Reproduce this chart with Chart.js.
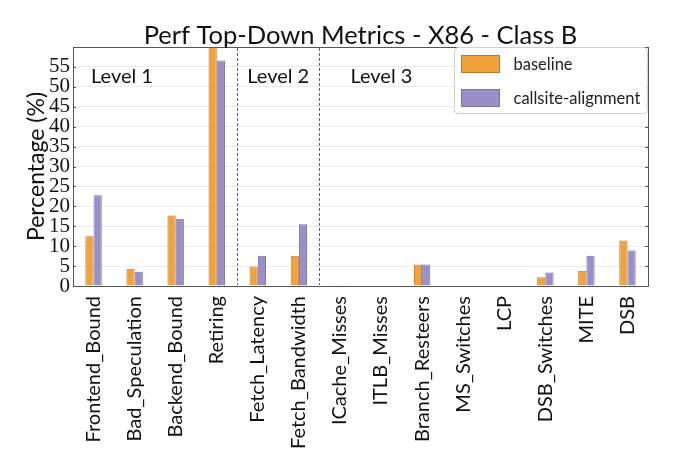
<!DOCTYPE html>
<html>
<head>
<meta charset="utf-8">
<script src="https://cdn.jsdelivr.net/npm/chart.js@4.4.0/dist/chart.umd.min.js"></script>
<style>
html,body{margin:0;padding:0;background:#fff;}
#wrap{width:674px;height:472px;}
</style>
</head>
<body>
<div id="wrap"><canvas id="c" width="674" height="472"></canvas></div>
<script>
const categories = ["Frontend_Bound","Bad_Speculation","Backend_Bound","Retiring","Fetch_Latency","Fetch_Bandwidth","ICache_Misses","ITLB_Misses","Branch_Resteers","MS_Switches","LCP","DSB_Switches","MITE","DSB"];
const baseline = [12.5, 4.3, 17.7, 61.0, 4.9, 7.6, 0.2, 0, 5.4, 0, 0.1, 2.2, 3.8, 11.4];
const callsiteAlignment = [22.8, 3.6, 16.9, 56.6, 7.6, 15.5, 0.2, 0, 5.4, 0, 0.1, 3.4, 7.6, 8.9];
const yTicks = [0,5,10,15,20,25,30,35,40,45,50,55];
const levelLabels = ["Level 1","Level 2","Level 3"];
const seriesNames = ["baseline","callsite-alignment"];
const titleText = "Perf Top-Down Metrics - X86 - Class B";
const yTitle = "Percentage (%)";

const orange = "rgba(240,163,60,1)", orangeEdge = "#b9782c";
const purple = "rgba(154,143,200,1)", purpleEdge = "#7a70a6";

const decor = {
  id: 'decor',
  afterDraw(chart) {
    const ctx = chart.ctx, a = chart.chartArea, x = chart.scales.x, y = chart.scales.y;
    ctx.save();
    // frame
    ctx.setLineDash([]);
    ctx.strokeStyle = "#555"; ctx.lineWidth = 1;
    ctx.strokeRect(Math.round(a.left)+0.5, Math.round(a.top)+0.5, Math.round(a.right-a.left), Math.round(a.bottom-a.top));
    // inward ticks
    yTicks.forEach(v => {
      const py = Math.round(y.getPixelForValue(v)) + 0.5;
      ctx.beginPath(); ctx.moveTo(a.left, py); ctx.lineTo(a.left+3, py);
      ctx.moveTo(a.right, py); ctx.lineTo(a.right-3, py); ctx.stroke();
    });
    // separators (dashes as filled rects)
    ctx.fillStyle = "#ff2020";
    [3.5, 5.5].forEach(v => {
      const px = Math.round(x.getPixelForValue(v));
      for (let yy = Math.round(a.top) + 1; yy < a.bottom - 1; yy += 5) {
        ctx.fillRect(px, yy, 1, Math.min(3, a.bottom - 1 - yy));
      }
    });
    // level labels
    ctx.fillStyle = "#111"; ctx.font = "20px Lato"; ctx.textBaseline = "alphabetic"; ctx.textAlign = "left";
    const lv = [-0.5, 3.5, 5.5];
    const off = [18, 10, 31];
    levelLabels.forEach((t, i) => {
      ctx.fillText(t, x.getPixelForValue(lv[i]) + off[i], a.top + 36);
    });
    // legend
    const lx = 454.5, ly = a.top + 0.5, lw = 193, lh = 66;
    ctx.fillStyle = "rgba(255,255,255,0.9)"; ctx.strokeStyle = "#d0d0d0"; ctx.lineWidth = 1;
    ctx.beginPath(); ctx.roundRect(lx, ly, lw, lh, 4); ctx.fill(); ctx.stroke();
    const cols = [[orange, orangeEdge],[purple, purpleEdge]];
    seriesNames.forEach((n, i) => {
      const py = ly + 8 + i*34;
      ctx.fillStyle = cols[i][0]; ctx.fillRect(lx+7, py, 38, 17);
      ctx.strokeStyle = cols[i][1]; ctx.strokeRect(lx+7, py, 38, 17);
      ctx.fillStyle = "#222"; ctx.font = "16.5px Lato"; ctx.textBaseline = "middle";
      ctx.fillText(n, lx + 59, py + 9);
    });
    // title
    ctx.fillStyle = "#111"; ctx.font = "25.5px Lato"; ctx.textAlign = "center"; ctx.textBaseline = "alphabetic";
    ctx.fillText(titleText, (a.left + a.right)/2, 44);
    // y title
    ctx.save();
    ctx.translate(44, (a.top + a.bottom)/2);
    ctx.rotate(-Math.PI/2);
    ctx.font = "23px Lato"; ctx.textAlign = "center"; ctx.textBaseline = "alphabetic";
    ctx.fillText(yTitle, 0, 0);
    ctx.restore();
    ctx.restore();
  }
};

new Chart(document.getElementById('c'), {
  type: 'bar',
  data: {
    labels: categories,
    datasets: [
      {label: seriesNames[0], data: baseline, backgroundColor: orange, borderColor: orangeEdge, borderWidth: 1},
      {label: seriesNames[1], data: callsiteAlignment, backgroundColor: purple, borderColor: purpleEdge, borderWidth: 1}
    ]
  },
  options: {
    responsive: false, animation: false, devicePixelRatio: 1,
    categoryPercentage: 0.4, barPercentage: 1.0,
    layout: {padding: {top: 47, right: 26, left: 0, bottom: 0}},
    plugins: {legend: {display: false}, title: {display: false}, tooltip: {enabled: false}},
    scales: {
      x: {
        grid: {display: false}, border: {display: false},
        ticks: {maxRotation: 90, minRotation: 90, autoSkip: false, color: "#111", font: {family: "Lato", size: 20}, padding: 2},
        afterFit(s) { s.height = 186; }
      },
      y: {
        min: 0, max: 60,
        border: {display: false},
        grid: {color: "#ececec", drawTicks: false, lineWidth: 1},
        ticks: {stepSize: 5, autoSkip: false, color: "#111", font: {family: "Liberation Serif", size: 21}, padding: 3,
          callback: v => (v < 60 ? v : "")},
        title: {display: false},
        afterFit(s) { s.width = 73; }
      }
    }
  },
  plugins: [decor]
});
</script>
</body>
</html>
